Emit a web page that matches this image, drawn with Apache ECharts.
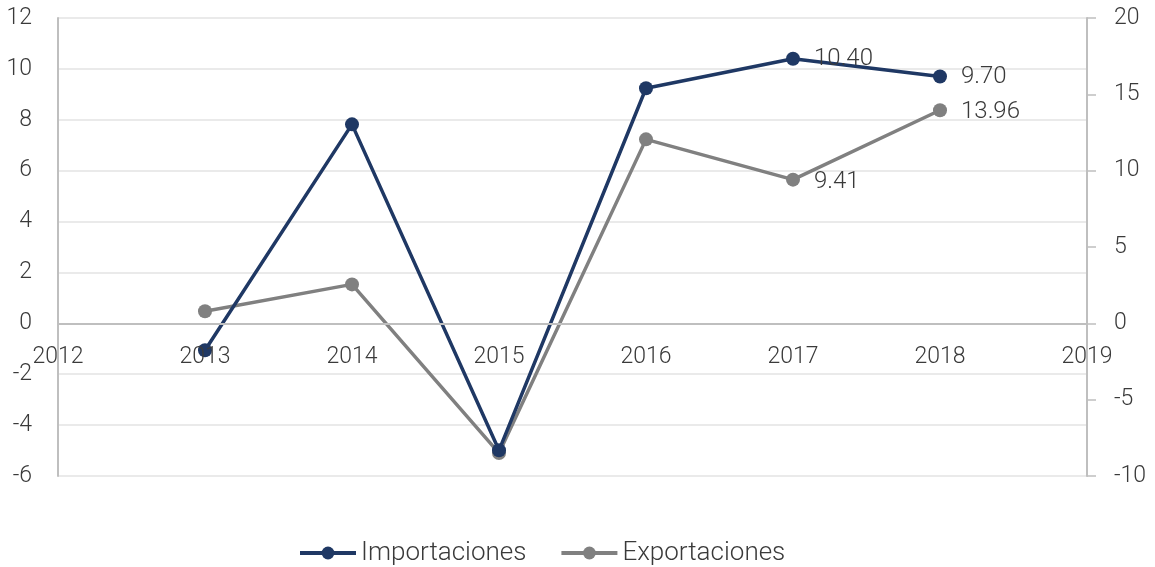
<!DOCTYPE html>
<html>
<head>
    <meta charset="UTF-8">
    <script src="https://cdn.jsdelivr.net/npm/echarts@6/dist/echarts.min.js"></script>
    <style>
        html, body { margin: 0; padding: 0; background: #fff; }
    </style>
</head>
<body>
<div id="main" style="width: 1155px;height:567px;"></div>
<script>
    // datos
    var years = [2013, 2014, 2015, 2016, 2017, 2018];
    var importaciones = [-1.06, 7.82, -4.99, 9.24, 10.40, 9.70];
    var exportaciones = [0.79, 2.55, -8.50, 12.05, 9.41, 13.96];
    var labelYears = [2017, 2018];

    var fontFam = 'Roboto, sans-serif';
    var fontW = 300;
    var textColor = '#3a3a3a';

    var gridTop = 18, gridBottom = 91, chartH = 567;
    var leftMin = -6, leftMax = 12;
    // eje x sobre el cero del eje izquierdo
    var gridH = chartH - gridTop - gridBottom;
    var xOffset = -gridH * (0 - leftMin) / (leftMax - leftMin);

    function pairs(vals) {
        return years.map(function (y, i) { return [y, vals[i]]; });
    }

    var myChart = echarts.init(document.getElementById('main'));
    var option = {
        textStyle: { fontFamily: fontFam, fontWeight: fontW },
        grid: { left: 58, right: 68, top: gridTop, bottom: gridBottom },
        legend: {
            top: 535,
            left: 293,
            itemWidth: 56,
            itemHeight: 16,
            itemGap: 33,
            lineStyle: { width: 4 },
            textStyle: { fontSize: 26, color: textColor, fontFamily: fontFam, fontWeight: fontW },
            data: ['Importaciones', 'Exportaciones']
        },
        xAxis: {
            type: 'value',
            min: 2012,
            max: 2019,
            interval: 1,
            offset: xOffset,
            axisLine: { onZero: false, lineStyle: { color: '#bfbfbf', width: 2 } },
            axisTick: { show: false },
            splitLine: { show: false },
            axisLabel: {
                margin: 22,
                fontSize: 23,
                color: textColor,
                fontFamily: fontFam,
                fontWeight: fontW,
                formatter: function (v) { return String(v); }
            },
            z: 5
        },
        yAxis: [
            {
                type: 'value',
                min: leftMin,
                max: leftMax,
                interval: 2,
                axisLine: { show: true, onZero: false, lineStyle: { color: '#bfbfbf', width: 2 } },
                axisTick: { show: false },
                splitLine: { lineStyle: { color: '#e3e3e3', width: 1.5 } },
                axisLabel: { fontSize: 23, color: textColor, margin: 26, fontFamily: fontFam, fontWeight: fontW }
            },
            {
                type: 'value',
                min: -10,
                max: 20,
                interval: 5,
                position: 'right',
                axisLine: { show: true, onZero: false, lineStyle: { color: '#bfbfbf', width: 2 } },
                axisTick: { show: true, length: 9, lineStyle: { color: '#bfbfbf', width: 1.5 } },
                splitLine: { show: false },
                axisLabel: { fontSize: 23, color: textColor, margin: 27, fontFamily: fontFam, fontWeight: fontW }
            }
        ],
        series: [
            {
                name: 'Importaciones',
                type: 'line',
                yAxisIndex: 0,
                data: pairs(importaciones),
                symbol: 'circle',
                symbolSize: 14,
                lineStyle: { color: '#1f3864', width: 3.5 },
                itemStyle: { color: '#1f3864' },
                label: {
                    show: true,
                    position: 'right',
                    distance: 14,
                    fontSize: 24,
                    color: textColor,
                    fontFamily: fontFam,
                    fontWeight: fontW,
                    formatter: function (p) {
                        return labelYears.indexOf(p.value[0]) >= 0 ? p.value[1].toFixed(2) : '';
                    }
                },
                z: 3
            },
            {
                name: 'Exportaciones',
                type: 'line',
                yAxisIndex: 1,
                data: pairs(exportaciones),
                symbol: 'circle',
                symbolSize: 14,
                lineStyle: { color: '#808080', width: 3.5 },
                itemStyle: { color: '#808080' },
                label: {
                    show: true,
                    position: 'right',
                    distance: 14,
                    offset: [0, 2],
                    fontSize: 24,
                    color: textColor,
                    fontFamily: fontFam,
                    fontWeight: fontW,
                    formatter: function (p) {
                        return labelYears.indexOf(p.value[0]) >= 0 ? p.value[1].toFixed(2) : '';
                    }
                },
                z: 2
            }
        ]
    };
    myChart.setOption(option);
</script>
</body>
</html>
